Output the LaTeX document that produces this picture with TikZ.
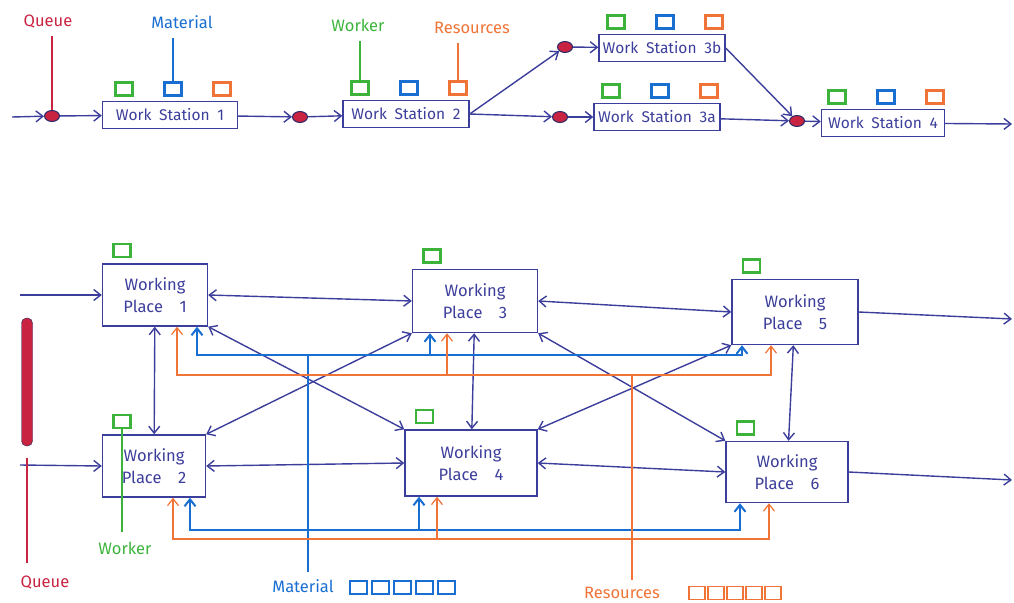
\documentclass[tikz,border=0pt]{standalone}
\usepackage{fontspec}
\setmainfont{Fira Sans}
\usetikzlibrary{arrows.meta,shapes.geometric}

\definecolor{Ink}{RGB}{60,62,155}
\definecolor{QueueRed}{RGB}{200,35,65}
\definecolor{MatBlue}{RGB}{25,110,210}
\definecolor{WorkGreen}{RGB}{60,180,60}
\definecolor{ResOrange}{RGB}{240,115,55}
\def\SqW{17}
\def\SqH{13}

\begin{document}
\begin{tikzpicture}[x=1pt,y=-1pt,
  font=\fontsize{16.5}{22}\selectfont,
  >={Straight Barb[length=7pt,width=11pt]},
  flow/.style={draw=Ink,line width=1.4pt},
  matl/.style={draw=MatBlue,line width=2pt},
  resl/.style={draw=ResOrange,line width=1.2pt},
  station/.style={draw=Ink,line width=1.4pt,minimum width=126,minimum height=27,inner xsep=2pt,text=Ink,font=\fontsize{15.5}{20}\selectfont},
  place/.style={draw=Ink,line width=1.4pt,minimum height=62,align=center,text=Ink},
  queue/.style={ellipse,draw=Ink!70!black,fill=QueueRed,minimum width=15,minimum height=11,inner sep=0pt,line width=1pt},
  sq/.style={draw=#1,line width=2.6pt,minimum width=\SqW,minimum height=\SqH,inner sep=0pt}]
  \useasboundingbox (0,0) rectangle (1014,602);

  % --- Line layout ---
  \node[station,minimum width=135] (ws1) at (170,115) {Work\enspace Station\enspace 1};
  \node[station] (ws2) at (406,114) {Work\enspace Station\enspace 2};
  \node[station] (ws3b) at (662,48) {Work\enspace Station\enspace 3b};
  \node[station] (ws3a) at (657,117) {Work\enspace Station\enspace 3a};
  \node[station,minimum width=123] (ws4) at (883,123) {Work\enspace Station\enspace 4};
  \foreach \q/\x/\y in {q1/52/116, q2/300/117, q3b/565/47, q3a/560/117, q4/797/121}
    \node[queue] (\q) at (\x,\y) {};
  \foreach \s in {ws1,ws2,ws3b,ws3a,ws4}{
    \node[sq=WorkGreen] (\s-g) at ([xshift=-46,yshift=12]\s.north) {};
    \node[sq=MatBlue] (\s-m) at ([xshift=3,yshift=12]\s.north) {};
    \node[sq=ResOrange] (\s-r) at ([xshift=52,yshift=12]\s.north) {};
  }
  \coordinate (in) at (12,117);
  \coordinate (out) at (1012,124);
  \foreach \a/\b in {in/q1, q1/ws1, ws1/q2, q2/ws2, q3b/ws3b, q3a/ws3a, ws3a/q4, q4/ws4, ws4/out}
    \draw[flow,->] (\a) -- (\b);
  \draw[flow,->] (ws2.east) -- (q3b);
  \draw[flow,->] (ws2.east) -- (q3a);
  \draw[flow,->] (ws3b.east) -- (q4);

  \node[text=QueueRed] (lq) at (48,22) {Queue};
  \node[text=MatBlue] (lm) at (182,22) {Material};
  \node[text=WorkGreen] (lw) at (358,25) {Worker};
  \node[text=ResOrange] (lr) at (472,28) {Resources};
  \draw[QueueRed,line width=1.6pt,shorten <=4pt] (q1 |- lq.south) -- (q1);
  \draw[MatBlue,line width=1.6pt,shorten <=6pt] (ws1-m |- lm.south) -- (ws1-m);
  \draw[WorkGreen,line width=1.6pt,shorten <=6pt] (ws2-g |- lw.south) -- (ws2-g);
  \draw[ResOrange,line width=1.6pt,shorten <=6pt] (ws2-r |- lr.south) -- (ws2-r);

  % --- Workshop layout ---
  \node[place,minimum width=105] (wp1) at (155,295) {Working\\Place\quad 1};
  \node[place,minimum width=103] (wp2) at (154,466) {Working\\Place\quad 2};
  \node[place,minimum width=125,minimum height=63] (wp3) at (475,301) {Working\\Place\quad 3};
  \node[place,minimum width=132,minimum height=66] (wp4) at (471,463) {Working\\Place\quad 4};
  \node[place,minimum width=126,minimum height=65] (wp5) at (795,312) {Working\\Place\quad 5};
  \node[place,minimum width=122,minimum height=61] (wp6) at (787,472) {Working\\Place\quad 6};
  \foreach \i in {1,...,6}
    \node[sq=WorkGreen] (wp\i-g) at ([xshift=20,yshift=13]wp\i.north west) {};

  \coordinate (in1) at (20,295);
  \coordinate (in2) at (20,465);
  \coordinate (out5) at (1012,319);
  \coordinate (out6) at (1012,480);
  \draw[flow,->] (in1) -- (wp1.west);
  \draw[flow,->] (in2) -- (wp2.west);
  \draw[flow,->] (wp5.east) -- (out5);
  \draw[flow,->] (wp6.east) -- (out6);
  \foreach \a/\b in {wp1/wp3, wp3/wp5, wp2/wp4, wp4/wp6}
    \draw[flow,<->] (\a.east) -- (\b.west);
  \foreach \a/\b in {wp1/wp2, wp3/wp4, wp5/wp6}
    \draw[flow,<->] (\a) -- (\b);
  \foreach \a/\b in {wp1/wp4, wp3/wp6}
    \draw[flow,<->] (\a.south east) -- (\b.north west);
  \foreach \a/\b in {wp2/wp3, wp4/wp5}
    \draw[flow,<->] (\a.north east) -- (\b.south west);

  % --- Queue and worker ---
  \node[draw=Ink!60!black,fill=QueueRed,rounded corners=5,minimum width=11,minimum height=128,inner sep=0pt] (qbar) at (27,382) {};
  \node[text=QueueRed] (lq2) at (45,583) {Queue};
  \draw[QueueRed,line width=1.6pt,shorten >=10pt] ([yshift=-12]qbar.south) -- (qbar.south |- lq2.north);
  \node[text=WorkGreen] (lw2) at (125,548) {Worker};
  \draw[WorkGreen,line width=1.6pt,shorten >=6pt] (wp2-g.south) -- (wp2-g |- lw2.north);

  % --- Material ---
  \node[text=MatBlue] (lm2) at (303,586) {Material};
  \foreach \i/\x in {1/358,2/380,3/402,4/424,5/446}
    \node[sq=MatBlue,line width=2pt] (m\i) at (\x,587) {};
  \coordinate (mtop) at (308,355);
  \coordinate (mbot) at (308,530);
  \draw[matl,line width=1.6pt,shorten >=4pt] (mtop) -- (mtop |- lm2.north);
  \foreach \p/\d in {wp1/42, wp3/-45, wp5/-53}
    \draw[matl,->] (mtop) -| ([xshift=\d]\p.south);
  \foreach \p/\d in {wp2/36, wp4/-52, wp6/-47}
    \draw[matl,->] (mbot) -| ([xshift=\d]\p.south);

  % --- Resources ---
  \node[text=ResOrange] (lr2) at (622,593) {Resources};
  \foreach \i/\x in {1/697,2/716,3/735,4/754,5/773}
    \node[sq=ResOrange,line width=1.5pt,minimum width=16] (r\i) at (\x,593) {};
  \coordinate (rtop) at (632,375);
  \coordinate (rbot) at (632,539);
  \draw[resl,shorten >=4pt] (rtop) -- (rtop |- lr2.north);
  \foreach \p/\d in {wp1/22, wp3/-28, wp5/-24}
    \draw[resl,->] (rtop) -| ([xshift=\d]\p.south);
  \foreach \p/\d in {wp2/19, wp4/-34, wp6/-18}
    \draw[resl,->] (rbot) -| ([xshift=\d]\p.south);
\end{tikzpicture}
\end{document}
